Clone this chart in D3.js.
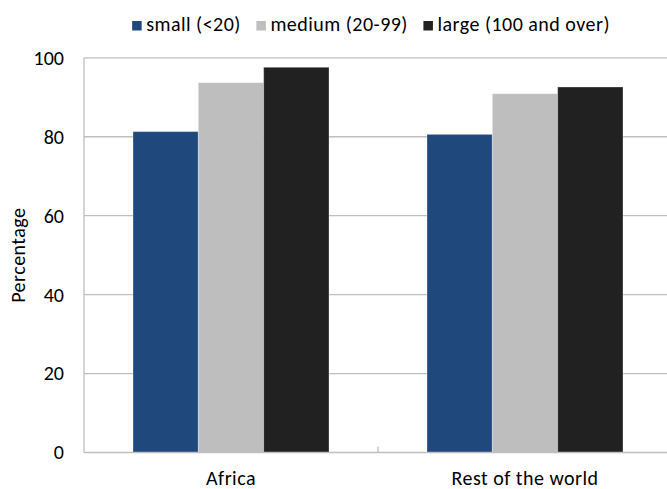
<!DOCTYPE html>
<html><head><meta charset="utf-8">
<script src="https://cdn.jsdelivr.net/npm/d3@7"></script>
<style>html,body{margin:0;padding:0;background:#fff;overflow:hidden}</style>
</head><body>
<svg id="chart" width="667" height="489"></svg>
<script>
const categories = ["Africa", "Rest of the world"];
const seriesNames = ["small (<20)", "medium (20-99)", "large (100 and over)"];
const smallValues = [81.3, 80.6];
const mediumValues = [93.7, 90.9];
const largeValues = [97.6, 92.6];
const yTicks = [0, 20, 40, 60, 80, 100];
const colors = ["#1f497d", "#bebebe", "#212121"];
const yTitle = "Percentage";

const seriesValues = [smallValues, mediumValues, largeValues];
const FONT = "Carlito, Calibri, Lato, sans-serif";
const FS = 20;

const svg = d3.select("#chart");
const pLeft = 84, pRight = 672, pTop = 57.8, pBottom = 452.5;

// calibrate letter spacing / digit size so text widths approximate the original face
const probe = svg.append("text").attr("font-family", FONT).attr("font-size", FS).text("Rest of the world");
const pw = probe.node().getComputedTextLength();
probe.text("100");
const dw = probe.node().getComputedTextLength();
probe.remove();
const LS = Math.max(-0.6, Math.min(1.5, (147 - pw) / 17));
const FS_NUM = Math.max(16, Math.min(20, FS * 30.5 / dw));

function styleText(sel, size) {
  return sel.attr("font-family", FONT).attr("font-size", size || FS).attr("fill", "#000")
    .attr("letter-spacing", size ? null : LS + "px");
}

const x0 = d3.scaleBand().domain(categories).range([pLeft, pRight]).paddingInner(1/3).paddingOuter(1/6);
const x1 = d3.scaleBand().domain(seriesNames).range([0, x0.bandwidth()]);
const y = d3.scaleLinear().domain([0, 100]).range([pBottom, pTop]);
const color = d3.scaleOrdinal().domain(seriesNames).range(colors);

// gridlines
svg.append("g").selectAll("line").data(yTicks.filter(d => d > 0)).join("line")
  .attr("x1", pLeft).attr("x2", pRight)
  .attr("y1", d => y(d)).attr("y2", d => y(d))
  .attr("stroke", "#bfbfbf").attr("stroke-width", 1.3);

// y axis line
svg.append("line").attr("x1", pLeft).attr("x2", pLeft).attr("y1", y(100)).attr("y2", y(0))
  .attr("stroke", "#bfbfbf").attr("stroke-width", 1.3);

// bars
const groups = svg.append("g").selectAll("g").data(categories).join("g")
  .attr("transform", d => `translate(${x0(d)},0)`);
groups.selectAll("rect").data((c, i) => seriesNames.map((s, j) => ({s, v: seriesValues[j][i]}))).join("rect")
  .attr("x", d => x1(d.s)).attr("width", x1.bandwidth())
  .attr("y", d => y(d.v)).attr("height", d => y(0) - y(d.v))
  .attr("fill", d => color(d.s))
  .attr("stroke", "rgba(255,255,255,0.3)").attr("stroke-width", 1);

// x axis
const xAxis = d3.axisBottom(x0).tickSize(0).tickPadding(0);
const xg = svg.append("g").attr("transform", `translate(0,${pBottom})`).call(xAxis);
xg.select(".domain").remove();
styleText(xg.selectAll("text").attr("dy", null).attr("y", 32));
svg.append("line").attr("x1", pLeft).attr("x2", pRight).attr("y1", pBottom).attr("y2", pBottom)
  .attr("stroke", "#bfbfbf").attr("stroke-width", 1.3);
// category boundary tick (inside)
const boundaries = categories.slice(1).map(c => x0(c) - x0.step() * x0.paddingInner() / 2);
svg.append("g").selectAll("line").data(boundaries).join("line")
  .attr("x1", d => d).attr("x2", d => d).attr("y1", pBottom - 6).attr("y2", pBottom)
  .attr("stroke", "#bfbfbf").attr("stroke-width", 1.3);

// y axis labels
const yAxis = d3.axisLeft(y).tickValues(yTicks).tickSize(0).tickPadding(20);
const yg = svg.append("g").attr("transform", `translate(${pLeft},0)`).call(yAxis);
yg.select(".domain").remove();
styleText(yg.selectAll("text"), FS_NUM);

// y title
styleText(svg.append("text").attr("transform", `translate(25,${(pTop + pBottom) / 2}) rotate(-90)`)
  .attr("text-anchor", "middle"))
  .text(yTitle);

// legend
const lg = svg.append("g");
let cx = 0;
const SQ = 9.5;
seriesNames.forEach((s, i) => {
  const g = lg.append("g").attr("transform", `translate(${cx},0)`);
  g.append("rect").attr("x", 0).attr("y", -SQ - 0.5).attr("width", SQ).attr("height", SQ).attr("fill", colors[i]);
  const t = styleText(g.append("text").attr("x", SQ + 4.5).attr("y", 0)).text(s);
  cx += SQ + 4.5 + t.node().getComputedTextLength() + 15.5;
});
const totalW = cx - 15.5;
lg.attr("transform", `translate(${610 - totalW},31)`);
</script>
</body></html>
